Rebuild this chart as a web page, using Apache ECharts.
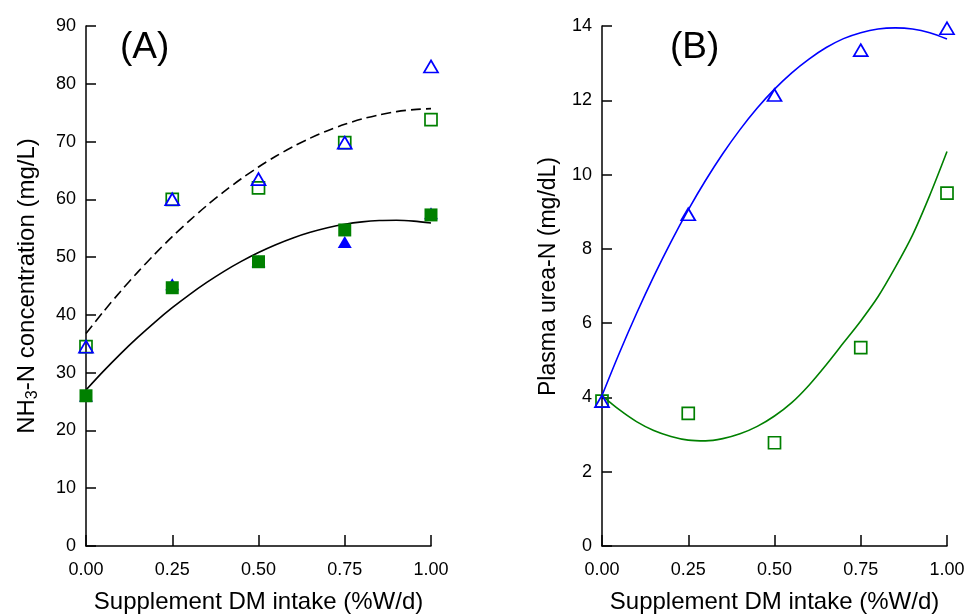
<!DOCTYPE html>
<html>
<head>
<meta charset="utf-8">
<script src="https://cdn.jsdelivr.net/npm/echarts@6/dist/echarts.min.js"></script>
<style>html,body{margin:0;padding:0;background:#fff}#c{width:968px;height:615px}</style>
</head>
<body>
<div id="c"></div>
<script>
// Measured x positions (supplement DM intake, %W/d)
const intake = [0, 0.25, 0.5, 0.75, 1.0];
const xTicks = ['0.00', '0.25', '0.50', '0.75', '1.00'];

// Panel A: NH3-N concentration (mg/L)
const aOpenTriangle = [34.5, 60.0, 63.5, 69.8, 83.0];
const aOpenSquare = [34.5, 60.0, 62.0, 69.8, 73.8];
const aFilledTriangle = [26.0, 45.3, 49.3, 52.6, 57.6];
const aFilledSquare = [26.0, 44.7, 49.2, 54.7, 57.3];

// Fitted curves
const curveX = [0, 0.05, 0.1, 0.15, 0.2, 0.25, 0.3, 0.35, 0.4, 0.45, 0.5,
                0.55, 0.6, 0.65, 0.7, 0.75, 0.8, 0.85, 0.9, 0.95, 1.0];
const aDashedCurve = [36.8, 40.52, 44.06, 47.40, 50.56, 53.54, 56.32, 58.92, 61.34, 63.56, 65.6,
                      67.45, 69.12, 70.59, 71.88, 72.99, 73.9, 74.63, 75.18, 75.53, 75.7];
const aSolidCurve = [27.0, 30.22, 33.26, 36.10, 38.76, 41.24, 43.52, 45.62, 47.54, 49.26, 50.8,
                     52.15, 53.32, 54.29, 55.08, 55.69, 56.1, 56.33, 56.38, 56.23, 55.9];

// Panel B: Plasma urea-N (mg/dL)
const bTriangle = [3.9, 8.93, 12.14, 13.35, 13.94];
const bSquare = [3.9, 3.57, 2.78, 5.34, 9.50];
const bBlueCurve = [4.05, 5.19, 6.26, 7.26, 8.19, 9.05, 9.84, 10.56, 11.21, 11.79, 12.3,
                    12.74, 13.11, 13.42, 13.66, 13.82, 13.92, 13.95, 13.92, 13.82, 13.65];
const bGreenCurve = [4.05, 3.67, 3.35, 3.11, 2.95, 2.85, 2.83, 2.89, 3.02, 3.22, 3.50,
                     3.86, 4.33, 4.88, 5.47, 6.06, 6.71, 7.50, 8.37, 9.44, 10.62];

const FONT = 'Liberation Sans, Arial, Helvetica, sans-serif';
const BLUE = '#0000ff';
const GREEN = '#008000';

function pairs(xs, ys) { return xs.map((x, i) => [x, ys[i]]); }

function tick(len) {
  return { show: true, inside: true, length: len, lineStyle: { color: '#000', width: 1.5 } };
}

function xAxis(gridIndex) {
  return {
    type: 'value', gridIndex, min: 0, max: 1, interval: 0.25,
    name: 'Supplement DM intake (%W/d)', nameLocation: 'middle', nameGap: 44,
    nameTextStyle: { fontFamily: FONT, fontSize: 24, color: '#000' },
    axisLine: { show: true, onZero: false, lineStyle: { color: '#000', width: 1.5 } },
    axisTick: tick(11),
    axisLabel: { color: '#000', fontFamily: FONT, fontSize: 18, margin: 15,
      formatter: v => { const i = intake.indexOf(v); return i >= 0 ? xTicks[i] : v.toFixed(2); } },
    splitLine: { show: false }
  };
}
function yAxis(gridIndex, max, interval, name, nameGap, fontSize, rich, pad) {
  return {
    type: 'value', gridIndex, min: 0, max, interval,
    name, nameLocation: 'middle', nameGap,
    nameTextStyle: Object.assign({ fontFamily: FONT, fontSize, color: '#000', padding: pad || 0 }, rich ? { rich } : {}),
    axisLine: { show: true, onZero: false, lineStyle: { color: '#000', width: 1.5 } },
    axisTick: tick(10),
    axisLabel: { color: '#000', fontFamily: FONT, fontSize: 18, margin: 10 },
    splitLine: { show: false }
  };
}

function openMarker(name, xi, yi, data, symbol, size, color) {
  return { name, type: 'scatter', xAxisIndex: xi, yAxisIndex: yi, data, symbol, symbolSize: size,
    itemStyle: { color: 'rgba(255,255,255,0)', borderColor: color, borderWidth: 1.7, opacity: 1 }, z: 4 };
}
function filledMarker(name, xi, yi, data, symbol, size, color) {
  return { name, type: 'scatter', xAxisIndex: xi, yAxisIndex: yi, data, symbol, symbolSize: size,
    itemStyle: { color, borderWidth: 0, opacity: 1 }, z: 4 };
}
function curve(name, xi, yi, data, color, type) {
  return { name, type: 'line', xAxisIndex: xi, yAxisIndex: yi, data, smooth: 0.3, showSymbol: false,
    symbol: 'none', lineStyle: { color, width: 1.6, type: type || 'solid' }, z: 3 };
}

const nhRich = {
  n: { fontFamily: FONT, fontSize: 24, color: '#000', lineHeight: 28, verticalAlign: 'middle' },
  s: { fontFamily: FONT, fontSize: 16, color: '#000', lineHeight: 16, verticalAlign: 'bottom' }
};

const chart = echarts.init(document.getElementById('c'), null, { renderer: 'canvas' });
chart.setOption({
  animation: false,
  backgroundColor: '#fff',
  grid: [
    { left: 86, top: 26, width: 345, height: 520, containLabel: false, outerBoundsMode: 'none' },
    { left: 602, top: 26, width: 345, height: 520, containLabel: false, outerBoundsMode: 'none' }
  ],
  xAxis: [xAxis(0), xAxis(1)],
  yAxis: [
    yAxis(0, 90, 10, '{n|NH}{s|3}{n|-N concentration (mg/L)}', 45, 24, nhRich),
    yAxis(1, 14, 2, 'Plasma urea-N (mg/dL)', 42, 23, null, [0, 0, 0, 19])
  ],
  graphic: [
    { type: 'text', left: 120, top: 29, style: { text: '(A)', font: '37px ' + FONT, fill: '#000' } },
    { type: 'text', left: 670, top: 29, style: { text: '(B)', font: '37px ' + FONT, fill: '#000' } }
  ],
  series: [
    curve('A dashed fit', 0, 0, pairs(curveX, aDashedCurve), '#000', [10, 5]),
    curve('A solid fit', 0, 0, pairs(curveX, aSolidCurve), '#000'),
    filledMarker('A filled triangle', 0, 0, pairs(intake, aFilledTriangle), 'triangle', [14, 12], BLUE),
    filledMarker('A filled square', 0, 0, pairs(intake, aFilledSquare), 'rect', [13, 13], GREEN),
    openMarker('A open square', 0, 0, pairs(intake, aOpenSquare), 'rect', [12, 12], GREEN),
    openMarker('A open triangle', 0, 0, pairs(intake, aOpenTriangle), 'triangle', [14, 12], BLUE),
    curve('B blue fit', 1, 1, pairs(curveX, bBlueCurve), BLUE),
    curve('B green fit', 1, 1, pairs(curveX, bGreenCurve), GREEN),
    openMarker('B square', 1, 1, pairs(intake, bSquare), 'rect', [12, 12], GREEN),
    openMarker('B triangle', 1, 1, pairs(intake, bTriangle), 'triangle', [14, 12], BLUE)
  ]
});
</script>
</body>
</html>
